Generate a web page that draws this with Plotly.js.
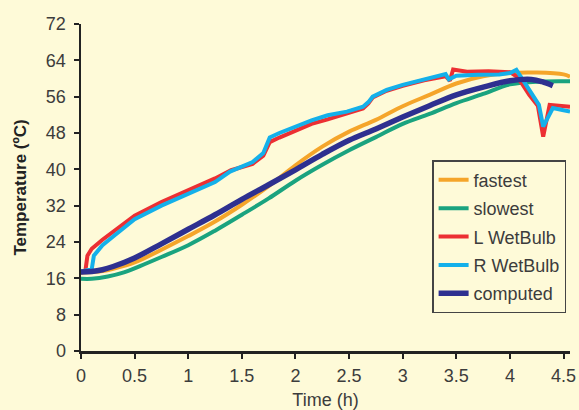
<!DOCTYPE html>
<html><head><meta charset="utf-8">
<script src="https://cdn.plot.ly/plotly-3.0.1.min.js"></script>
<style>html,body{margin:0;padding:0;background:#fefad8;}#chart{width:579px;height:410px;}</style>
</head><body><div id="chart"></div>
<script>
const seriesNames = ["fastest", "slowest", "L WetBulb", "R WetBulb", "computed"];
const xTicks = [0, 0.5, 1, 1.5, 2, 2.5, 3, 3.5, 4, 4.5];
const xTickLabels = ["0", "0.5", "1", "1.5", "2", "2.5", "3", "3.5", "4", "4.5"];
const yTicks = [0, 8, 16, 24, 32, 40, 48, 56, 64, 72];

const fastestT = [0, 0.1, 0.2, 0.3, 0.5, 0.75, 1.0, 1.25, 1.5, 1.75, 2.0, 2.25, 2.5, 2.75, 3.0, 3.25, 3.5, 3.75, 4.0, 4.25, 4.5, 4.56];
const fastestV = [17.3, 17.4, 17.6, 18.1, 19.5, 22.3, 25.3, 28.5, 32.2, 36.3, 40.9, 45.0, 48.3, 50.9, 53.9, 56.4, 58.9, 60.5, 61.2, 61.3, 60.9, 60.4];

const slowestT = [0, 0.1, 0.25, 0.4, 0.55, 0.75, 1.0, 1.25, 1.5, 1.75, 2.0, 2.25, 2.5, 2.75, 3.0, 3.25, 3.5, 3.75, 4.0, 4.25, 4.5, 4.56];
const slowestV = [15.9, 15.9, 16.4, 17.3, 18.7, 20.7, 23.3, 26.5, 30.0, 33.6, 37.5, 41.0, 44.2, 47.1, 50.0, 52.2, 54.6, 56.6, 58.7, 59.3, 59.4, 59.4];

const lWetT = [0, 0.04, 0.06, 0.1, 0.2, 0.3, 0.5, 0.75, 1.0, 1.25, 1.4, 1.5, 1.6, 1.7, 1.76, 1.85, 2.0, 2.15, 2.3, 2.48, 2.63, 2.68, 2.72, 2.85, 3.0, 3.2, 3.4, 3.44, 3.47, 3.6, 3.8, 4.0, 4.06, 4.12, 4.18, 4.26, 4.31, 4.37, 4.45, 4.56];
const lWetV = [17.3, 17.5, 21.0, 22.5, 24.5, 26.2, 29.8, 32.8, 35.3, 38.0, 39.8, 40.5, 41.2, 43.0, 46.0, 47.0, 48.6, 50.0, 51.0, 52.3, 53.4, 54.5, 55.8, 57.3, 58.4, 59.6, 60.5, 59.5, 62.0, 61.5, 61.6, 61.4, 60.5, 58.6, 56.4, 54.0, 47.2, 54.2, 54.0, 53.8];

const rWetT = [0, 0.05, 0.1, 0.12, 0.2, 0.3, 0.5, 0.75, 1.0, 1.25, 1.39, 1.5, 1.6, 1.7, 1.76, 1.85, 2.0, 2.15, 2.3, 2.48, 2.63, 2.68, 2.72, 2.85, 3.0, 3.2, 3.4, 3.43, 3.5, 3.7, 3.9, 4.0, 4.06, 4.12, 4.21, 4.27, 4.31, 4.35, 4.4, 4.5, 4.56];
const rWetV = [17.5, 17.7, 18.0, 21.0, 23.3, 25.2, 29.0, 32.0, 34.5, 37.2, 39.5, 40.5, 41.6, 43.6, 47.0, 48.0, 49.4, 50.8, 51.9, 52.7, 53.8, 54.8, 56.0, 57.5, 58.6, 59.8, 61.0, 59.8, 60.6, 60.8, 60.9, 61.2, 61.9, 59.7, 56.4, 54.2, 49.4, 51.2, 53.5, 53.0, 52.7];

const computedT = [0, 0.1, 0.2, 0.3, 0.5, 0.75, 1.0, 1.25, 1.5, 1.75, 2.0, 2.25, 2.5, 2.75, 3.0, 3.25, 3.5, 3.75, 4.0, 4.2, 4.3, 4.4];
const computedV = [17.4, 17.5, 17.9, 18.6, 20.5, 23.6, 26.8, 30.0, 33.4, 36.6, 39.9, 43.3, 46.4, 48.9, 51.5, 54.0, 56.4, 58.1, 59.5, 59.8, 59.3, 58.4];

const colors = ["#f5a52a", "#1aa37f", "#ec2f33", "#14b0ea", "#2e3090"];
const widths = [4, 4, 4, 4, 5.5];
const shapes = ["spline", "spline", "linear", "linear", "spline"];
const xs = [fastestT, slowestT, lWetT, rWetT, computedT];
const ys = [fastestV, slowestV, lWetV, rWetV, computedV];

const traces = seriesNames.map((n, i) => ({
  x: xs[i], y: ys[i], name: n, type: "scatter", mode: "lines",
  legendgroup: "g" + i,
  line: {color: colors[i], width: widths[i], shape: shapes[i], smoothing: 1}
}));

const fam = "Liberation Sans, Arial, sans-serif";
const font = {family: fam, size: 18, color: "#3c3c3c"};
const layout = {
  width: 579, height: 410,
  margin: {l: 81, r: 9, t: 24, b: 59},
  paper_bgcolor: "#fefad8", plot_bgcolor: "#fefad8",
  font: font,
  showlegend: true,
  legend: {x: 0.718, y: 0.584, xanchor: "left", yanchor: "top",
    bgcolor: "#fefad8", bordercolor: "#444", borderwidth: 1.5,
    font: {family: fam, size: 18, color: "#3c3c3c"},
    itemwidth: 30, tracegroupgap: 2},
  xaxis: {range: [0, 4.56], tickvals: xTicks, ticktext: xTickLabels,
    showgrid: false, zeroline: false, showline: true, linecolor: "#222", linewidth: 2.5,
    ticks: "outside", ticklen: 5, tickwidth: 2, tickcolor: "#222",
    tickfont: font, ticklabelstandoff: 2,
    title: {text: "Time (h)", font: font, standoff: 11}},
  yaxis: {range: [0, 72], tickvals: yTicks,
    showgrid: false, zeroline: false, showline: true, linecolor: "#222", linewidth: 2.5,
    ticks: "outside", ticklen: 5, tickwidth: 2, tickcolor: "#222",
    tickfont: font, ticklabelstandoff: 4,
    title: {text: "<b>Temperature (ºC)</b>", font: {family: fam, size: 17, color: "#222"}, standoff: 15}}
};
Plotly.newPlot("chart", traces, layout, {displayModeBar: false, staticPlot: true});
</script></body></html>
